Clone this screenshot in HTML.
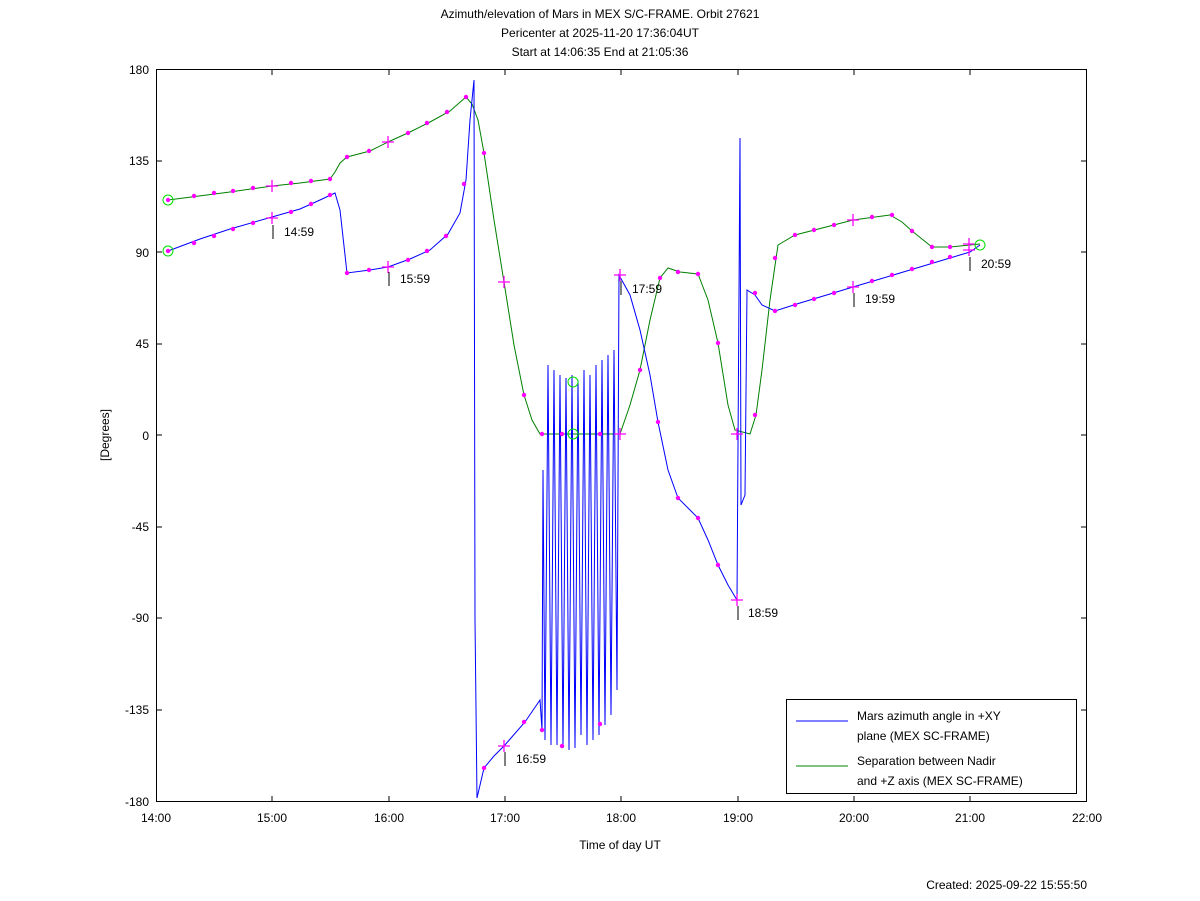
<!DOCTYPE html>
<html><head><meta charset="utf-8"><style>body{margin:0;background:#fff}svg{display:block}text{font-family:"Liberation Sans",sans-serif;font-size:12px;fill:#000}</style></head><body>
<svg width="1200" height="901" viewBox="0 0 1200 901">
<text x="600" y="18" text-anchor="middle">Azimuth/elevation of Mars in MEX S/C-FRAME.  Orbit 27621</text>
<text x="600" y="37" text-anchor="middle">Pericenter at 2025-11-20 17:36:04UT</text>
<text x="600" y="56" text-anchor="middle">Start at 14:06:35 End at 21:05:36</text>
<rect x="156.5" y="69.5" width="930" height="732" fill="none" stroke="#000"/>
<g stroke="#000">
<path d="M156 161h6M1087 161h-6M156 252h6M1087 252h-6M156 344h6M1087 344h-6M156 435h6M1087 435h-6M156 527h6M1087 527h-6M156 618h6M1087 618h-6M156 710h6M1087 710h-6"/>
<path d="M272 802v-6M272 69v6M389 802v-6M389 69v6M505 802v-6M505 69v6M621 802v-6M621 69v6M738 802v-6M738 69v6M854 802v-6M854 69v6M970 802v-6M970 69v6"/>
</g>
<g text-anchor="end">
<text x="149" y="74">180</text><text x="149" y="165">135</text><text x="149" y="257">90</text><text x="149" y="348">45</text><text x="149" y="440">0</text><text x="149" y="531">-45</text><text x="149" y="622">-90</text><text x="149" y="714">-135</text><text x="149" y="806">-180</text>
</g>
<g text-anchor="middle">
<text x="156" y="822">14:00</text><text x="272" y="822">15:00</text><text x="389" y="822">16:00</text><text x="505" y="822">17:00</text><text x="621" y="822">18:00</text><text x="738" y="822">19:00</text><text x="854" y="822">20:00</text><text x="970" y="822">21:00</text><text x="1087" y="822">22:00</text>
<text x="620" y="849">Time of day UT</text>
</g>
<text x="109" y="435" text-anchor="middle" transform="rotate(-90 109 435)">[Degrees]</text>
<text x="1087" y="889" text-anchor="end">Created: 2025-09-22 15:55:50</text>
<path fill="none" stroke="#008000" d="M168 200L230 192L272 186L300 183L330 179L335 172L340 163L347 157L370 151L388 142L410 132L430 122L450 111L466 97L472 104L478 120L484 153L494 220L504 282L514 345L524 395L532 420L540 434L620 434L630 405L640 370L650 320L660 278L668 268L680 272L698 274L708 300L718 343L728 405L735 430L750 434L756 415L762 370L770 300L778 245L795 235L830 226L853 220L890 215L902 222L912 231L932 247L950 247L980 244"/>
<path fill="none" stroke="#0000ff" d="M168 251L200 239L230 229L272 217L300 209L320 200L335 193L340 210L347 273L370 270L388 267L410 259L430 250L448 234L460 213L466 180L470 120L474 80L475 620L477 798L484 768L494 756L504 746L525 722L540 700L542 730L543 470L545 740L548 365L551 745L554 370L557 745L560 375L563 748L566 378L569 750L572 375L575 748L578 380L581 735L584 370L587 745L590 375L593 740L596 365L599 735L602 360L605 725L608 355L611 715L614 350L617 690L619 275L630 295L640 330L650 375L658 422L668 470L678 498L690 510L698 518L708 540L718 565L728 585L737 600L740 138L741 505L745 495L747 290L755 295L762 305L775 311L800 303L830 294L853 287L880 279L910 270L940 261L970 252L980 245"/>
<g fill="#ff00ff">
<circle cx="168" cy="200" r="2.2"/><circle cx="194" cy="196" r="2.2"/><circle cx="214" cy="193" r="2.2"/><circle cx="233" cy="191" r="2.2"/><circle cx="253" cy="188" r="2.2"/><circle cx="291" cy="183" r="2.2"/><circle cx="311" cy="181" r="2.2"/><circle cx="330" cy="179" r="2.2"/><circle cx="347" cy="157" r="2.2"/><circle cx="369" cy="151" r="2.2"/><circle cx="408" cy="133" r="2.2"/><circle cx="427" cy="123" r="2.2"/><circle cx="447" cy="112" r="2.2"/><circle cx="466" cy="97" r="2.2"/><circle cx="484" cy="153" r="2.2"/><circle cx="524" cy="395" r="2.2"/><circle cx="542" cy="434" r="2.2"/><circle cx="562" cy="434" r="2.2"/><circle cx="600" cy="434" r="2.2"/><circle cx="640" cy="370" r="2.2"/><circle cx="660" cy="278" r="2.2"/><circle cx="678" cy="272" r="2.2"/><circle cx="698" cy="274" r="2.2"/><circle cx="718" cy="343" r="2.2"/><circle cx="755" cy="415" r="2.2"/><circle cx="775" cy="258" r="2.2"/><circle cx="795" cy="235" r="2.2"/><circle cx="814" cy="230" r="2.2"/><circle cx="834" cy="225" r="2.2"/><circle cx="872" cy="217" r="2.2"/><circle cx="892" cy="215" r="2.2"/><circle cx="912" cy="231" r="2.2"/><circle cx="932" cy="247" r="2.2"/><circle cx="950" cy="247" r="2.2"/>
<circle cx="168" cy="251" r="2.2"/><circle cx="194" cy="243" r="2.2"/><circle cx="214" cy="236" r="2.2"/><circle cx="233" cy="229" r="2.2"/><circle cx="253" cy="223" r="2.2"/><circle cx="291" cy="212" r="2.2"/><circle cx="311" cy="204" r="2.2"/><circle cx="330" cy="195" r="2.2"/><circle cx="347" cy="273" r="2.2"/><circle cx="369" cy="270" r="2.2"/><circle cx="408" cy="260" r="2.2"/><circle cx="427" cy="251" r="2.2"/><circle cx="446" cy="236" r="2.2"/><circle cx="464" cy="184" r="2.2"/><circle cx="484" cy="768" r="2.2"/><circle cx="524" cy="722" r="2.2"/><circle cx="542" cy="730" r="2.2"/><circle cx="562" cy="746" r="2.2"/><circle cx="600" cy="724" r="2.2"/><circle cx="658" cy="422" r="2.2"/><circle cx="678" cy="498" r="2.2"/><circle cx="698" cy="518" r="2.2"/><circle cx="718" cy="565" r="2.2"/><circle cx="755" cy="293" r="2.2"/><circle cx="775" cy="311" r="2.2"/><circle cx="795" cy="305" r="2.2"/><circle cx="814" cy="299" r="2.2"/><circle cx="834" cy="293" r="2.2"/><circle cx="872" cy="281" r="2.2"/><circle cx="892" cy="275" r="2.2"/><circle cx="912" cy="269" r="2.2"/><circle cx="932" cy="262" r="2.2"/><circle cx="950" cy="257" r="2.2"/>
</g>
<g stroke="#ff00ff" stroke-width="1.3">
<path d="M266 218h12M272 212v12M266 186h12M272 180v12M382 267h12M388 261v12M382 142h12M388 136v12M498 746h12M504 740v12M498 282h12M504 276v12M614 434h12M620 428v12M614 275h12M620 269v12M731 600h12M737 594v12M731 434h12M737 428v12M847 287h12M853 281v12M847 220h12M853 214v12M963 250h12M969 244v12M963 244h12M969 238v12"/>
</g>
<g fill="none" stroke="#00dd00"><circle cx="168" cy="200" r="5"/><circle cx="168" cy="251" r="5"/><circle cx="573" cy="382" r="5"/><circle cx="573" cy="434" r="5"/><circle cx="980" cy="245" r="5"/></g>
<g stroke="#000"><path d="M273 225v14M389 272v14M505 752v14M621 281v14M738 606v14M854 293v14M970 257v14"/></g>
<g font-size="12">
<text x="284" y="236">14:59</text><text x="400" y="283">15:59</text><text x="516" y="763">16:59</text><text x="632" y="293">17:59</text><text x="748" y="617">18:59</text><text x="865" y="303">19:59</text><text x="981" y="268">20:59</text></g>
<rect x="786.5" y="699.5" width="290" height="94" fill="#fff" stroke="#000"/>
<path d="M796 721h52" stroke="#0000ff"/><path d="M796 766h52" stroke="#008000"/>
<text x="857" y="720">Mars azimuth angle in +XY</text><text x="857" y="740">plane (MEX SC-FRAME)</text>
<text x="857" y="765">Separation between Nadir</text><text x="857" y="785">and +Z axis (MEX SC-FRAME)</text>
</svg></body></html>
